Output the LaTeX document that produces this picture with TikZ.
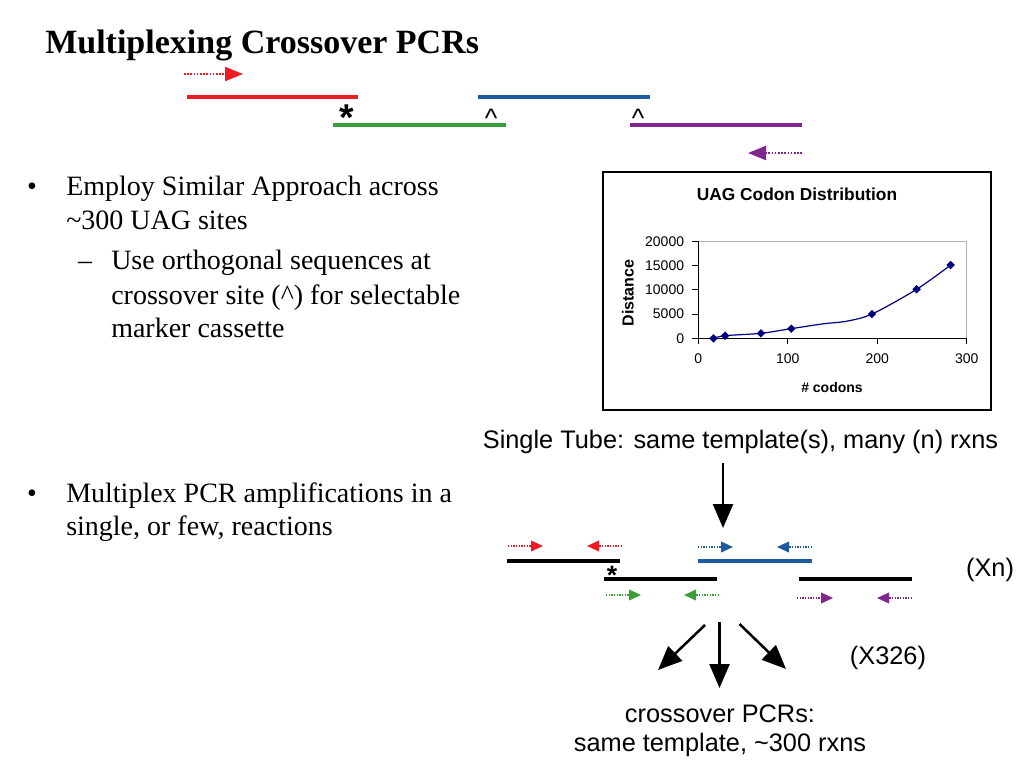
\documentclass[tikz,border=0pt]{standalone}
\usepackage{fontspec}
\setmainfont{Liberation Serif}
\newfontfamily\arialf{Liberation Sans}
\usetikzlibrary{arrows.meta,shapes.geometric}
\definecolor{pred}{RGB}{237,28,36}
\definecolor{pblue}{RGB}{30,90,160}
\definecolor{pgreen}{RGB}{57,160,57}
\definecolor{ppurple}{RGB}{128,38,142}
\definecolor{navyc}{RGB}{0,0,128}
\begin{document}
\begin{tikzpicture}[x=0.75pt,y=-0.75pt,
  strandA/.style={line width=3pt},
  strandB/.style={line width=2.3pt},
  primerA/.style={line width=1.6pt, dash pattern=on 1.2pt off 1.2pt, -{Triangle[length=13.5pt,width=10.5pt]}},
  primerB/.style={line width=1.2pt, dash pattern=on 1pt off 1pt, -{Triangle[length=9pt,width=8pt]}},
  bigarrow/.style={line width=1.9pt, -{Triangle[length=18pt,width=15pt]}},
  serifbig/.style={font=\fontsize{21}{25}\selectfont, anchor=base west, inner sep=0pt},
  sanslab/.style={font=\arialf\fontsize{19}{23}\selectfont, inner sep=0pt, anchor=base},
  ticklab/.style={font=\arialf\fontsize{10.5}{12}\selectfont, inner sep=0pt},
  axlab/.style={font=\arialf\bfseries\fontsize{10.5}{12}\selectfont, inner sep=0pt},
  datamark/.style={diamond, fill=navyc, inner sep=0pt, minimum size=6.5pt},
  asterisk/.style={font=\arialf\bfseries\fontsize{28}{28}\selectfont, inner sep=0pt, anchor=base},
  caret/.style={font=\arialf\fontsize{20}{20}\selectfont, inner sep=0pt, anchor=base}
]
\useasboundingbox (0,0) rectangle (1024,768);
\fill[white] (0,0) rectangle (1024,768);

% title
\node[font=\fontsize{25.5}{30}\selectfont\bfseries, anchor=base west, inner sep=0pt] (title) at (45,53) {Multiplexing Crossover PCRs};

% top construct
\coordinate (rA) at (187,97);  \coordinate (rB) at (358,97);
\coordinate (bA) at (478,97);  \coordinate (bB) at (650,97);
\coordinate (gA) at (333,125); \coordinate (gB) at (506,125);
\coordinate (vA) at (630,125); \coordinate (vB) at (802,125);
\draw[strandA, pred] (rA) -- (rB);
\draw[strandA, pblue] (bA) -- (bB);
\draw[strandA, pgreen] (gA) -- (gB);
\draw[strandA, ppurple] (vA) -- (vB);
\coordinate (pr1) at (184,74); \coordinate (pr2) at (243,74);
\coordinate (pv1) at (802,153); \coordinate (pv2) at (748,153);
\draw[primerA, pred] (pr1) -- (pr2);
\draw[primerA, ppurple] (pv1) -- (pv2);
\node[asterisk] (ast1) at (347,130) {*};
\node[caret] (car1) at (491,127) {\textasciicircum};
\node[caret] (car2) at (638,127) {\textasciicircum};

% bullets
\node[serifbig, anchor=base] (dot1) at (32,195) {\textbullet};
\node[serifbig] (b1a) at (66,195) {Employ Similar Approach across};
\node[serifbig] (b1b) at (66,229) {\textasciitilde300 UAG sites};
\node[serifbig, anchor=base] (dash1) at (85,269) {--};
\node[serifbig] (s1a) at (111,269) {Use orthogonal sequences at};
\node[serifbig] (s1b) at (111,304) {crossover site (\textasciicircum) for selectable};
\node[serifbig] (s1c) at (111,337) {marker cassette};
\node[serifbig, anchor=base] (dot2) at (32,502) {\textbullet};
\node[serifbig] (b2a) at (66,502) {Multiplex PCR amplifications in a};
\node[serifbig] (b2b) at (66,535) {single, or few, reactions};

% chart
\draw[line width=1pt] (603,172) rectangle (991,410);
\node[font=\arialf\bfseries\fontsize{13}{15}\selectfont, inner sep=0pt] (ctitle) at (797,194) {UAG Codon Distribution};
\draw[gray!60, line width=0.7pt] (698.3,241.3) -| (966.7,338.3);
\draw[line width=0.8pt] (698.3,241.3) -- (698.3,338.3) -- (966.7,338.3);
\begin{scope}[shift={(698.3,338.3)}, xscale=0.8947, yscale=-4.85]
  \foreach \d/\lab in {0/0,5/5000,10/10000,15/15000,20/20000} {
    \draw[line width=0.8pt] (0,\d) -- ++(-6.7,0);
    \node[ticklab, anchor=east] at (-15.6,\d) {\lab};
  }
  \foreach \v in {0,100,200,300} {
    \draw[line width=0.8pt] (\v,0) -- ++(0,-1.24);
    \node[ticklab] at (\v,-4.1) {\v};
  }
  \draw[navyc, line width=0.9pt] plot[smooth, tension=0.5] coordinates {(17,0) (30,0.54) (70,1.03) (104,1.99) (140,3.0) (165,3.5) (194,4.99) (244,10.1) (282,15.1)};
  \foreach \p [count=\i] in {(17,0),(30,0.54),(70,1.03),(104,1.99),(194,4.99),(244,10.1),(282,15.1)}
    \node[datamark] (m\i) at \p {};
\end{scope}
\node[axlab, rotate=90, font=\arialf\bfseries\fontsize{12}{14}\selectfont] (ylab) at (628,293) {Distance};
\node[axlab] (xlab) at (832,387) {\# codons};

% single tube
\node[sanslab] (single) at (740.5,448) {Single Tube: same template(s), many (n) rxns};
\coordinate (st) at (723,463); \coordinate (sb) at (723,528);
\draw[bigarrow] (st) -- (sb);

% lower construct
\coordinate (k1a) at (507,561); \coordinate (k1b) at (620,561);
\coordinate (blA) at (698,561); \coordinate (blB) at (812,561);
\coordinate (k2a) at (604,579); \coordinate (k2b) at (717,579);
\coordinate (k3a) at (799,579); \coordinate (k3b) at (912,579);
\draw[strandB] (k1a) -- (k1b);
\draw[strandB, pblue] (blA) -- (blB);
\draw[strandB] (k2a) -- (k2b);
\draw[strandB] (k3a) -- (k3b);
\node[asterisk, font=\arialf\bfseries\fontsize{20}{20}\selectfont] (ast2) at (612,584) {*};

\coordinate (q1a) at (508,546); \coordinate (q1b) at (543,546);
\coordinate (q2a) at (622,546); \coordinate (q2b) at (587,546);
\coordinate (q3a) at (698,547); \coordinate (q3b) at (733,547);
\coordinate (q4a) at (812,547); \coordinate (q4b) at (777,547);
\coordinate (q5a) at (606,595); \coordinate (q5b) at (641,595);
\coordinate (q6a) at (719,595); \coordinate (q6b) at (684,595);
\coordinate (q7a) at (797,598); \coordinate (q7b) at (833,598);
\coordinate (q8a) at (912,598); \coordinate (q8b) at (877,598);
\draw[primerB, pred] (q1a) -- (q1b);
\draw[primerB, pred] (q2a) -- (q2b);
\draw[primerB, pblue] (q3a) -- (q3b);
\draw[primerB, pblue] (q4a) -- (q4b);
\draw[primerB, pgreen] (q5a) -- (q5b);
\draw[primerB, pgreen] (q6a) -- (q6b);
\draw[primerB, ppurple] (q7a) -- (q7b);
\draw[primerB, ppurple] (q8a) -- (q8b);

\node[sanslab] (xn) at (990,576) {(Xn)};

% three arrows
\coordinate (a0) at (705,625); \coordinate (a1) at (658,670);
\coordinate (c0) at (719.5,622); \coordinate (c1) at (719.5,688);
\coordinate (e0) at (739.5,624); \coordinate (e1) at (786,669);
\draw[bigarrow] (a0) -- (a1);
\draw[bigarrow] (c0) -- (c1);
\draw[bigarrow] (e0) -- (e1);
\node[sanslab] (x326) at (888,664) {(X326)};

\node[sanslab] (cp1) at (720,722) {crossover PCRs:};
\node[sanslab] (cp2) at (720,751) {same template, \textasciitilde300 rxns};
\end{tikzpicture}
\end{document}
